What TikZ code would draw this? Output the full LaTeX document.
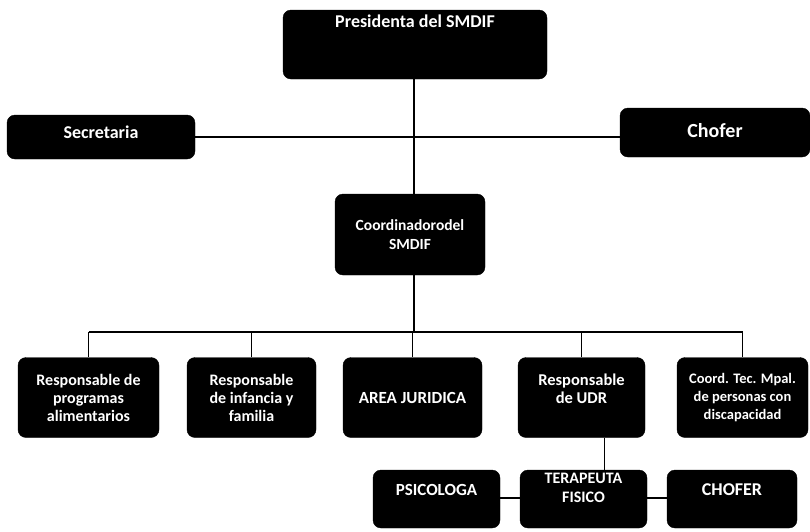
\documentclass[tikz,border=0pt]{standalone}
\usepackage{fontspec}
\setmainfont{Carlito}
\newcommand{\fsz}[2]{\bfseries\fontsize{#1}{#2}\selectfont}
\begin{document}
\begin{tikzpicture}[x=1pt,y=-1pt,
  box/.style={fill=black, draw=black, rounded corners=8pt, text=white, align=center, inner sep=1pt,
    font=\fsz{16}{18}},
  txt/.style={text=white, align=center, inner sep=1pt, font=\fsz{16}{18}},
  conn/.style={line width=1.6pt}]
\useasboundingbox (0,0) rectangle (810,531);
% top
\node[box, minimum width=264pt, minimum height=69pt,
  label={[txt, font=\fsz{18}{20}, anchor=base, yshift=-18pt]north:Presidenta del SMDIF}] (pres) at (415,44.5) {};
\node[box, minimum width=188pt, minimum height=44pt,
  label={[txt, font=\fsz{18}{20}, yshift=5pt]center:Secretaria}] (sec) at (101,137) {};
\node[box, minimum width=190pt, minimum height=49pt,
  label={[txt, font=\fsz{20}{22}, yshift=2pt]center:Chofer}] (chof) at (715,132.5) {};
\node[box, minimum width=150pt, minimum height=81pt, font=\fsz{15.5}{19}] (coord) at (410,234.5) {Coordinadorodel\\SMDIF};
% second row
\node[box, minimum width=141pt, minimum height=80pt] (b1) at (88.5,397.5) {Responsable de\\programas\\alimentarios};
\node[box, minimum width=129pt, minimum height=80pt] (b2) at (251.5,397.5) {Responsable\\de infancia y\\familia};
\node[box, minimum width=139pt, minimum height=80pt, font=\fsz{17}{19}] (b3) at (412.5,397.5) {AREA JURIDICA};
\node[box, minimum width=127pt, minimum height=80pt,
  label={[txt, font=\fsz{16.5}{18}, yshift=9pt]center:Responsable\\de UDR}] (b4) at (581.5,397.5) {};
\node[box, minimum width=131pt, minimum height=80pt, font=\fsz{14.5}{18}] (b5) at (742.5,397.5) {Coord. Tec. Mpal.\\de personas con\\discapacidad};
% third row
\node[box, minimum width=127pt, minimum height=58pt,
  label={[txt, font=\fsz{17}{19}, yshift=9pt]center:PSICOLOGA}] (p) at (436.5,499) {};
\node[box, minimum width=127pt, minimum height=58pt,
  label={[txt, font=\fsz{16}{19}, yshift=11pt]center:TERAPEUTA\\FISICO}] (t) at (583.5,499) {};
\node[box, minimum width=130pt, minimum height=58pt,
  label={[txt, font=\fsz{18}{20}, yshift=9pt]center:CHOFER}] (c2) at (732,499) {};
% connectors
\coordinate (bus) at (414,332);
\draw[conn] (pres.south -| bus) -- (coord.north -| bus);
\draw[conn] (sec.east) -- (sec.east -| chof.west);
\draw[conn] (coord.south -| bus) -- (bus);
\draw[conn] (b1.north |- bus) -- (b5.north |- bus);
\foreach \n in {b1,b2,b3,b4,b5} \draw[conn] (\n.north |- bus) -- (\n.north);
\draw[conn] ([xshift=23pt]b4.south) -- ([xshift=23pt]b4.south |- t.north);
\draw[conn] ([yshift=1pt]p.east) -- ([yshift=1pt]p.east -| t.west);
\draw[conn] ([yshift=1pt]t.east) -- ([yshift=1pt]t.east -| c2.west);
\end{tikzpicture}
\end{document}
